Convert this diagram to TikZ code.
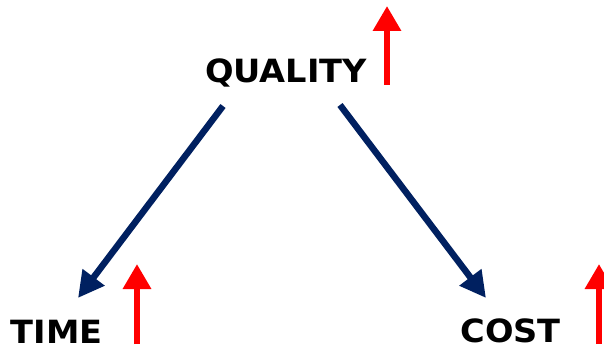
\documentclass[tikz,border=0pt]{standalone}
\usepackage{fontspec}
\newfontfamily\rotulofont{DejaVu Sans}[FakeStretch=1.05]
\usetikzlibrary{calc,positioning,arrows.meta}
\definecolor{azulescuro}{HTML}{002060}
\tikzset{
	palavra/.style={
		font=\rotulofont\bfseries\fontsize{32}{34}\selectfont,
		inner sep=0pt,
		anchor=base},
	seta/.style={draw=azulescuro, line width=6.5pt,
		-{Triangle[length=26pt,width=26pt]}},
	subida/.style={draw=red, line width=6.5pt,
		-{Triangle[length=25pt,width=27pt]}},
}
\begin{document}
\begin{tikzpicture}
			[x=1pt, y=1pt]
			\useasboundingbox (0,0) rectangle (604,351);
			\node[palavra] (Q) at (286,268) {QUALITY};
			\node[palavra] (T) at (56.5,8) {TIME};
			\node[palavra] (C) at (510.5,9) {COST};
			% setas azuis
			\draw[seta] ([xshift=-63pt,yshift=-23pt]Q.base) -- ([xshift=21.5pt,yshift=45pt]T.base);
			\draw[seta] ([xshift=54pt,yshift=-22pt]Q.base) -- ([xshift=-24.5pt,yshift=44pt]C.base);
			% setas vermelhas
			\coordinate (Q1) at ([xshift=101pt,yshift=-2pt]Q.base);
			\coordinate (T1) at ([xshift=80.5pt,yshift=-1pt]T.base);
			\coordinate (C1) at ([xshift=88.5pt,yshift=-2pt]C.base);
			\draw[subida] (Q1) -- ++(0,79);
			\draw[subida] (T1) -- ++(0,80);
			\draw[subida] (C1) -- ++(0,80);
\end{tikzpicture}
\end{document}
